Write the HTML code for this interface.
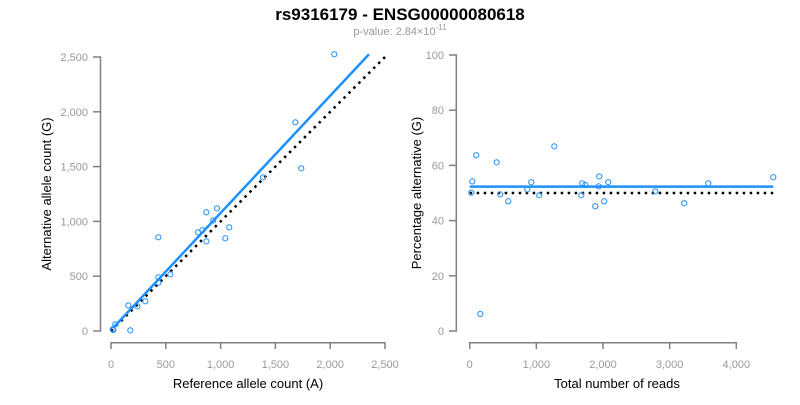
<!DOCTYPE html>
<html><head><meta charset="utf-8"><style>
body{margin:0;background:#fff;}
svg text{font-family:"Liberation Sans",Arial,sans-serif;}
</style></head><body>
<svg id="chart" width="800" height="400" xmlns="http://www.w3.org/2000/svg">
<text x="400" y="20" text-anchor="middle" font-size="17" font-weight="bold">rs9316179 - ENSG00000080618</text>
<text x="400" y="35" text-anchor="middle" font-size="11" fill="#999">p-value: 2.84×10<tspan dy="-5" font-size="8">-11</tspan></text>
<g id="left"></g>
<g id="right"></g>
</svg>
<script>
const refCounts=[2037,1682,1736,1387,967,870,933,1079,794,833,870,1043,432,541,432,432,313,240,158,176,39,21,15];
const altCounts=[2525,1904,1484,1402,1119,1083,1010,946,900,919,818,846,855,517,490,441,271,225,234,6,61,9,15];
const leftTicks=[0,500,1000,1500,2000,2500];
const leftTickLabels=["0","500","1,000","1,500","2,000","2,500"];
const leftFit=[18,27,2354,2525];
const totalReads=[99,405,1269,39,24,459,579,864,924,1044,1689,1734,1674,1935,1944,1884,2019,2079,2785,3220,3580,4555,159];
const pctAlt=[63.7,61.1,66.9,54.2,50.1,49.5,47.0,51.3,53.9,49.2,53.5,52.9,49.2,52.4,56.0,45.2,47.0,53.9,50.6,46.3,53.5,55.7,6.2];
const rightXTicks=[0,1000,2000,3000,4000];
const rightXTickLabels=["0","1,000","2,000","3,000","4,000"];
const rightYTicks=[0,20,40,60,80,100];
const rightFitY=52.3;
const rightFitX=[0,4555];
const nullPct=50;

const NS="http://www.w3.org/2000/svg";
function mk(p,t,a){const e=document.createElementNS(NS,t);for(const k in a)e.setAttribute(k,a[k]);p.appendChild(e);return e;}
const L=document.getElementById('left'),R=document.getElementById('right');
const lx=v=>111+v*274/2500, ly=v=>331-v*274/2500;
const rx=v=>469.7+v*0.06665, ry=v=>331-v*2.76;

// left axes
let e=mk(L,'path',{d:`M93,${ly(2500)}H100.5V${ly(0)}H93`,stroke:'#808080',fill:'none','stroke-width':1.5});

e=mk(L,'path',{d:`M${lx(0)},349V342.7H${lx(2500)}V349`,stroke:'#808080',fill:'none','stroke-width':1.5});

leftTicks.forEach((t,i)=>{
  if(i>0&&i<leftTicks.length-1){mk(L,'line',{x1:93,x2:100.5,y1:ly(t),y2:ly(t),stroke:'#808080','stroke-width':1.5});
  mk(L,'line',{x1:lx(t),x2:lx(t),y1:342.7,y2:349,stroke:'#808080','stroke-width':1.5});}
  e=mk(L,'text',{x:88,y:ly(t)+4,'text-anchor':'end','font-size':11,fill:'#999'});e.textContent=leftTickLabels[i];
  
  e=mk(L,'text',{x:lx(t),y:368,'text-anchor':'middle','font-size':11,fill:'#999'});e.textContent=leftTickLabels[i];
  
});
e=mk(L,'text',{x:248,y:388,'text-anchor':'middle','font-size':13});e.textContent='Reference allele count (A)';

e=mk(L,'text',{x:0,y:0,'text-anchor':'middle','font-size':13,transform:`translate(51,${ly(1250)}) rotate(-90)`});e.textContent='Alternative allele count (G)';

e=mk(L,'line',{x1:lx(0),y1:ly(0),x2:lx(2500),y2:ly(2500),stroke:'#000','stroke-width':2.5,'stroke-dasharray':'2.5,4.5'});

e=mk(L,'line',{x1:lx(leftFit[0]),y1:ly(leftFit[1]),x2:lx(leftFit[2]),y2:ly(leftFit[3]),stroke:'#1e90ff','stroke-width':2.5});

refCounts.forEach((v,i)=>{e=mk(L,'circle',{cx:lx(v),cy:ly(altCounts[i]),r:2.6,fill:'none',stroke:'#1e90ff','stroke-width':1});
});

// right axes
e=mk(R,'path',{d:`M449,${ry(100)}H456.3V${ry(0)}H449`,stroke:'#808080',fill:'none','stroke-width':1.5});

e=mk(R,'path',{d:`M${rx(0)},349V342.7H${rx(4000)}V349`,stroke:'#808080',fill:'none','stroke-width':1.5});

rightYTicks.forEach((t,i)=>{
  if(i>0&&i<rightYTicks.length-1)mk(R,'line',{x1:449,x2:456.3,y1:ry(t),y2:ry(t),stroke:'#808080','stroke-width':1.5});
  e=mk(R,'text',{x:444,y:ry(t)+4,'text-anchor':'end','font-size':11,fill:'#999'});e.textContent=String(t);
  
});
rightXTicks.forEach((t,i)=>{
  if(i>0&&i<rightXTicks.length-1)mk(R,'line',{x1:rx(t),x2:rx(t),y1:342.7,y2:349,stroke:'#808080','stroke-width':1.5});
  e=mk(R,'text',{x:rx(t),y:368,'text-anchor':'middle','font-size':11,fill:'#999'});e.textContent=rightXTickLabels[i];
  
});
e=mk(R,'text',{x:617,y:388,'text-anchor':'middle','font-size':13});e.textContent='Total number of reads';

e=mk(R,'text',{x:0,y:0,'text-anchor':'middle','font-size':13,transform:`translate(421,${ry(50)}) rotate(-90)`});e.textContent='Percentage alternative (G)';

e=mk(R,'line',{x1:rx(rightFitX[0]),y1:ry(nullPct),x2:rx(rightFitX[1]),y2:ry(nullPct),stroke:'#000','stroke-width':2.5,'stroke-dasharray':'2.5,4.5'});

e=mk(R,'line',{x1:rx(rightFitX[0]),y1:ry(rightFitY),x2:rx(rightFitX[1]),y2:ry(rightFitY),stroke:'#1e90ff','stroke-width':2.5});

totalReads.forEach((v,i)=>{e=mk(R,'circle',{cx:rx(v),cy:ry(pctAlt[i]),r:2.6,fill:'none',stroke:'#1e90ff','stroke-width':1});
});
</script>
</body></html>
